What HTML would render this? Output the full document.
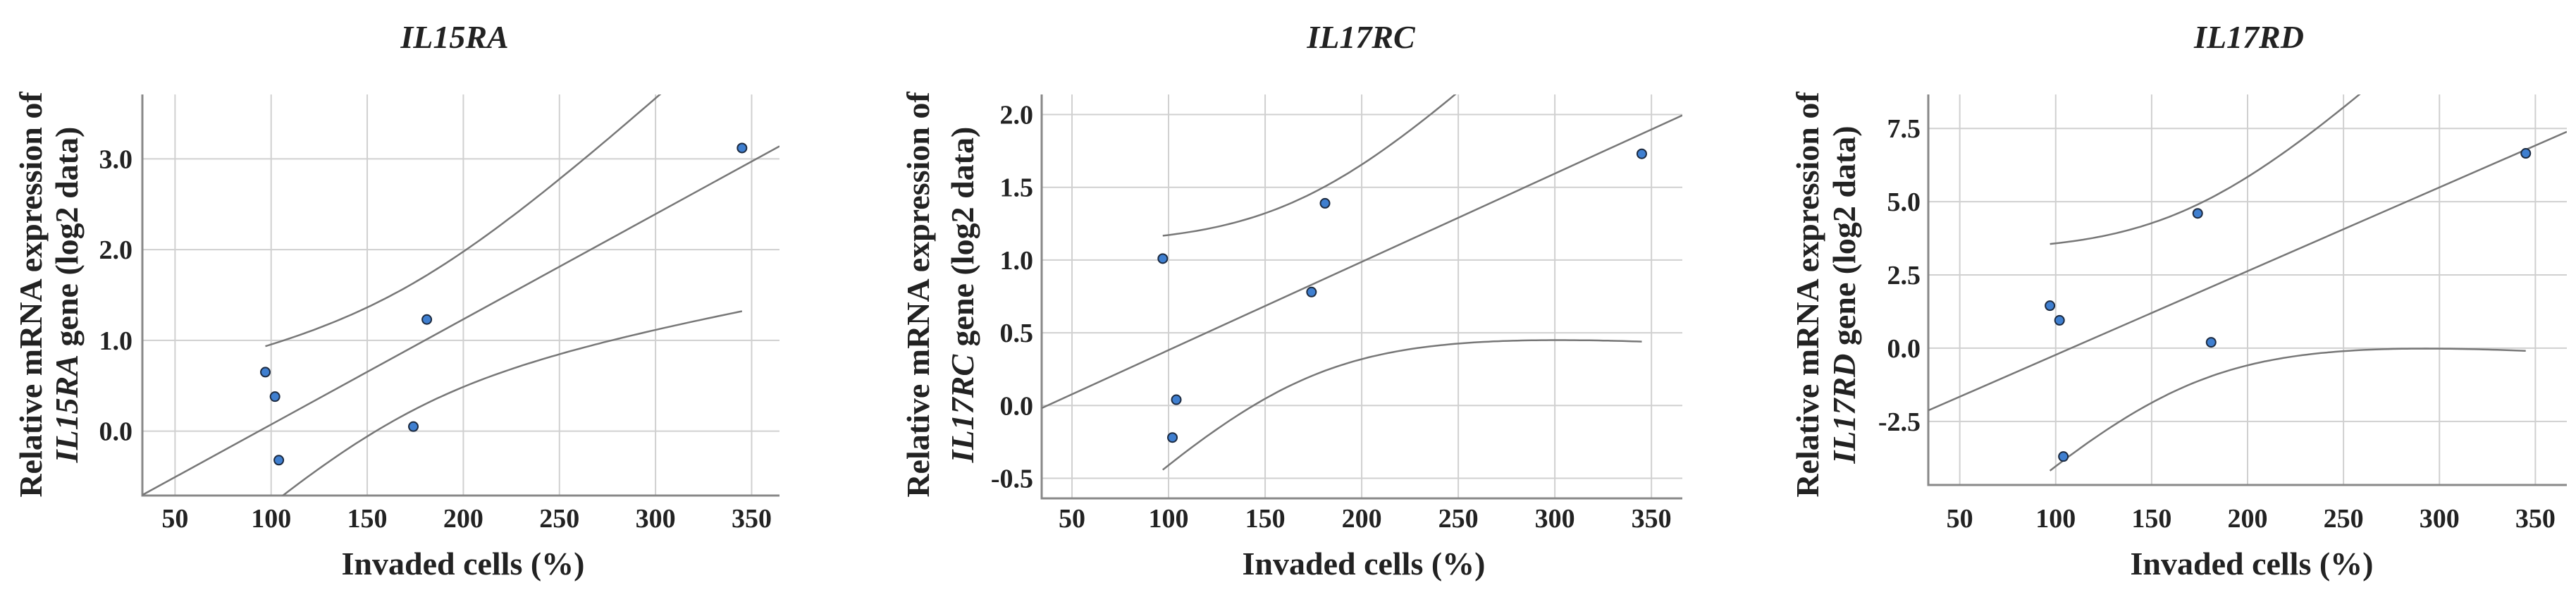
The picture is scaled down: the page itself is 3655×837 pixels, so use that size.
<!DOCTYPE html>
<html><head><meta charset="utf-8">
<style>
html,body{margin:0;padding:0;background:#fff;}
svg{display:block;}
text{font-family:"Liberation Serif",serif;fill:#222;}
</style></head>
<body>
<svg id="fig" width="3655" height="837" viewBox="0 0 3655 837" xmlns="http://www.w3.org/2000/svg"></svg>
<script>
// ---- data ----
const xValues = [97, 102, 104, 174, 181, 345];
const il15raValues = [0.65, 0.38, -0.32, 0.05, 1.23, 3.12];
const il17rcValues = [1.01, -0.22, 0.04, 0.78, 1.39, 1.73];
const il17rdValues = [1.45, 0.95, -3.7, 4.6, 0.2, 6.65];
const xTicks = [50, 100, 150, 200, 250, 300, 350];
const il15raTicks = ["0.0", "1.0", "2.0", "3.0"];
const il17rcTicks = ["-0.5", "0.0", "0.5", "1.0", "1.5", "2.0"];
const il17rdTicks = ["-2.5", "0.0", "2.5", "5.0", "7.5"];
const geneNames = ["IL15RA", "IL17RC", "IL17RD"];

const NS = "http://www.w3.org/2000/svg";
const svg = document.getElementById('fig');
function mk(tag, attrs, parent) {
  const e = document.createElementNS(NS, tag);
  for (const k in attrs) e.setAttribute(k, attrs[k]);
  (parent || svg).appendChild(e);
  return e;
}

const panels = [
  {gene: geneNames[0], ys: il15raValues, ticks: il15raTicks, L:202, R:1106, T:134, B:703, xmin:33, xmax:364.5, ymin:-0.71, ymax:3.71, tickRight:188, t1:43, t2:94, titleX:645, xTitleX:657},
  {gene: geneNames[1], ys: il17rcValues, ticks: il17rcTicks, L:1478, R:2387, T:134, B:707, xmin:34.3, xmax:366, ymin:-0.638, ymax:2.138, tickRight:1466, t1:1302, t2:1365, titleX:1931, xTitleX:1935},
  {gene: geneNames[2], ys: il17rdValues, ticks: il17rdTicks, L:2736, R:3642, T:134, B:688, xmin:33.6, xmax:366.4, ymin:-4.67, ymax:8.66, tickRight:2725, t1:2564, t2:2616, titleX:3191, xTitleX:3195}
];

panels.forEach((p, pi) => {
  const g = mk('g', {});
  
  
  const sx = v => p.L + (v - p.xmin) / (p.xmax - p.xmin) * (p.R - p.L);
  const sy = v => p.B - (v - p.ymin) / (p.ymax - p.ymin) * (p.B - p.T);
  const clipId = 'clip' + pi;
  const cp = mk('clipPath', {id: clipId}, g);
  mk('rect', {x: p.L, y: p.T, width: p.R - p.L, height: p.B - p.T}, cp);

  xTicks.forEach(t => {
    const l = mk('line', {x1: sx(t), x2: sx(t), y1: p.T, y2: p.B, stroke: '#d0d0d0', 'stroke-width': 2}, g);
    
    
    const tx = mk('text', {x: sx(t), y: 748, 'text-anchor': 'middle', 'font-size': 38, 'font-weight': 'bold', 'fill': '#333'}, g);
    tx.textContent = t;
    
    
  });
  p.ticks.forEach(t => {
    const v = parseFloat(t);
    const l = mk('line', {x1: p.L, x2: p.R, y1: sy(v), y2: sy(v), stroke: '#d0d0d0', 'stroke-width': 2}, g);
    
    
    const tx = mk('text', {x: p.tickRight, y: sy(v) + 13, 'text-anchor': 'end', 'font-size': 38, 'font-weight': 'bold', 'fill': '#333'}, g);
    tx.textContent = t;
    
    
  });
  const ax = mk('path', {d: `M${p.L},${p.T} V${p.B} H${p.R}`, fill: 'none', stroke: '#888', 'stroke-width': 3}, g);
  
  

  const n = xValues.length;
  const mx = xValues.reduce((a, b) => a + b, 0) / n;
  const my = p.ys.reduce((a, b) => a + b, 0) / n;
  let sxx = 0, sxy = 0;
  for (let i = 0; i < n; i++) { sxx += (xValues[i] - mx) ** 2; sxy += (xValues[i] - mx) * (p.ys[i] - my); }
  const b = sxy / sxx, a = my - b * mx;
  let sse = 0;
  for (let i = 0; i < n; i++) sse += (p.ys[i] - a - b * xValues[i]) ** 2;
  const s = Math.sqrt(sse / (n - 2)), tcrit = 2.776;
  const fit = mk('line', {x1: sx(p.xmin), y1: sy(a + b * p.xmin), x2: sx(p.xmax), y2: sy(a + b * p.xmax), stroke: '#777', 'stroke-width': 2.5, 'clip-path': `url(#${clipId})`}, g);
  
  
  const x0 = Math.min(...xValues), x1 = Math.max(...xValues);
  let up = '', lo = '';
  for (let k = 0; k <= 100; k++) {
    const xv = x0 + (x1 - x0) * k / 100;
    const yv = a + b * xv;
    const h = tcrit * s * Math.sqrt(1 / n + (xv - mx) ** 2 / sxx);
    up += (k ? 'L' : 'M') + sx(xv).toFixed(1) + ',' + sy(yv + h).toFixed(1);
    lo += (k ? 'L' : 'M') + sx(xv).toFixed(1) + ',' + sy(yv - h).toFixed(1);
  }
  const cu = mk('path', {d: up, fill: 'none', stroke: '#777', 'stroke-width': 2.5, 'clip-path': `url(#${clipId})`}, g);
  
  
  const cl = mk('path', {d: lo, fill: 'none', stroke: '#777', 'stroke-width': 2.5, 'clip-path': `url(#${clipId})`}, g);
  
  

  for (let i = 0; i < n; i++) {
    const c = mk('circle', {cx: sx(xValues[i]), cy: sy(p.ys[i]), r: 6.5, fill: '#3f7fd0', stroke: '#1c2a40', 'stroke-width': 2}, g);
    
    
  }

  const tt = mk('text', {x: p.titleX, y: 68, 'text-anchor': 'middle', 'font-size': 46, 'font-style': 'italic', 'font-weight': 'bold'}, g);
  tt.textContent = p.gene;
  
  
  const xt = mk('text', {x: p.xTitleX, y: 815, 'text-anchor': 'middle', 'font-size': 46, 'font-weight': 'bold'}, g);
  xt.textContent = 'Invaded cells (%)';
  
  
  const cyT = 418;
  const y1 = mk('text', {x: 0, y: 0, 'text-anchor': 'middle', 'font-size': 46, 'font-weight': 'bold', transform: `translate(${p.t1 + 16},${cyT}) rotate(-90)`}, g);
  y1.textContent = 'Relative mRNA expression of';
  
  
  const y2 = mk('text', {x: 0, y: 0, 'text-anchor': 'middle', 'font-size': 46, 'font-weight': 'bold', transform: `translate(${p.t2 + 16},${cyT}) rotate(-90)`}, g);
  const ts = mk('tspan', {'font-style': 'italic'}, y2);
  ts.textContent = p.gene;
  const ts2 = mk('tspan', {}, y2);
  ts2.textContent = ' gene (log2 data)';
  
  
});
</script>
</body></html>
